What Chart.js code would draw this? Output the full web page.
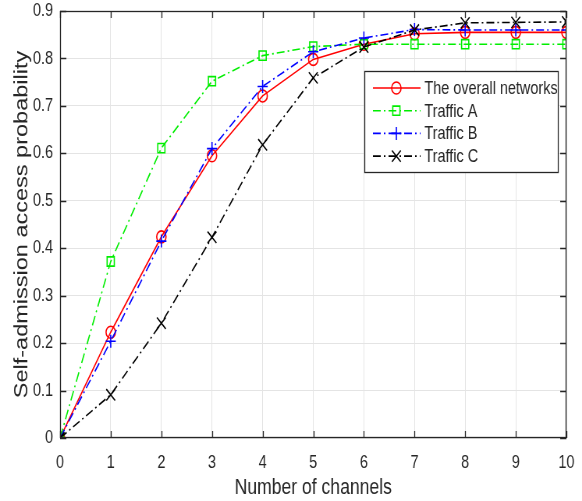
<!DOCTYPE html>
<html>
<head>
<meta charset="utf-8">
<script src="https://cdn.jsdelivr.net/npm/chart.js@4.4.1/dist/chart.umd.min.js"></script>
<style>
  html, body { margin: 0; padding: 0; background: #fff; overflow: hidden; }
  /* the reference figure is squeezed horizontally; draw wide, then squeeze */
  #wrap { width: 746px; height: 501px; transform: scaleX(0.7802); transform-origin: 0 0; }
  canvas { display: block; }
</style>
</head>
<body>
<div id="wrap"><canvas id="chart" width="746" height="501"></canvas></div>
<script>
// ── Data ───────────────────────────────────────────────────
const channels = [0, 1, 2, 3, 4, 5, 6, 7, 8, 9, 10];
const overall  = [0, 0.223, 0.424, 0.595, 0.721, 0.798, 0.830, 0.852, 0.855, 0.855, 0.855];
const trafficA = [0, 0.372, 0.611, 0.752, 0.806, 0.825, 0.830, 0.830, 0.830, 0.830, 0.830];
const trafficB = [0, 0.204, 0.415, 0.610, 0.741, 0.814, 0.843, 0.861, 0.860, 0.860, 0.860];
const trafficC = [0, 0.091, 0.242, 0.423, 0.618, 0.759, 0.824, 0.860, 0.875, 0.876, 0.877];
const xTicks = [0, 1, 2, 3, 4, 5, 6, 7, 8, 9, 10];
const yTicks = [0, 0.1, 0.2, 0.3, 0.4, 0.5, 0.6, 0.7, 0.8, 0.9];

const FONT = "'Liberation Sans', Arial, sans-serif";
const AXIS = '#262626';
const DASHDOT = [10, 4, 2, 4];

const pts = ys => channels.map((x, i) => ({ x, y: ys[i] }));

function series(label, ys, color, style, radius, dash, order) {
  return {
    label,
    data: pts(ys),
    borderColor: color,
    backgroundColor: 'rgba(0,0,0,0)',
    borderWidth: 1.6,
    borderDash: dash,
    pointStyle: style,
    pointRadius: radius,
    pointBorderColor: color,
    pointBackgroundColor: 'rgba(0,0,0,0)',
    pointBorderWidth: 1.6,
    tension: 0,
    order,
  };
}

// ── Box + inward ticks, MATLAB style ───────────────────────
const frame = {
  id: 'frame',
  afterDatasetsDraw(chart) {
    const { ctx, chartArea: a, scales: { x, y } } = chart;
    ctx.save();
    ctx.strokeStyle = AXIS;
    ctx.lineWidth = 1.3;
    ctx.strokeRect(a.left + 0.5, a.top + 0.5, a.width - 1, a.height - 1);
    ctx.beginPath();
    const tx = 7, ty = 8;
    xTicks.forEach(v => {
      const px = Math.round(x.getPixelForValue(v)) + 0.5;
      ctx.moveTo(px, a.bottom); ctx.lineTo(px, a.bottom - tx);
      ctx.moveTo(px, a.top);    ctx.lineTo(px, a.top + tx);
    });
    yTicks.forEach(v => {
      const py = Math.round(y.getPixelForValue(v)) + 0.5;
      ctx.moveTo(a.left, py);  ctx.lineTo(a.left + ty, py);
      ctx.moveTo(a.right, py); ctx.lineTo(a.right - ty, py);
    });
    ctx.stroke();
    ctx.restore();
  }
};

// ── Legend box inside the plot ─────────────────────────────
const boxLegend = {
  id: 'boxLegend',
  afterDraw(chart) {
    const { ctx } = chart;
    const bx = 467, by = 71, bw = 248, bh = 101;
    ctx.save();
    ctx.fillStyle = '#fff';
    ctx.fillRect(bx, by, bw, bh);
    ctx.strokeStyle = AXIS;
    ctx.lineWidth = 1.3;
    ctx.strokeRect(bx + 0.5, by + 0.5, bw, bh);
    ctx.font = '18.5px ' + FONT;
    ctx.textBaseline = 'middle';
    chart.data.datasets.forEach((ds, i) => {
      const yy = by + 17 + i * 22.7;
      ctx.strokeStyle = ds.borderColor;
      ctx.lineWidth = ds.borderWidth;
      ctx.setLineDash(ds.borderDash);
      ctx.beginPath();
      ctx.moveTo(bx + 11, yy); ctx.lineTo(bx + 72, yy);
      ctx.stroke();
      ctx.setLineDash([]);
      ctx.fillStyle = 'rgba(0,0,0,0)';
      Chart.helpers.drawPoint(ctx, {
        pointStyle: ds.pointStyle, radius: ds.pointRadius,
        rotation: 0, borderWidth: ds.pointBorderWidth
      }, bx + 41, yy);
      ctx.fillStyle = AXIS;
      ctx.fillText(ds.label, bx + 77, yy + 1);
    });
    ctx.restore();
  }
};

new Chart(document.getElementById('chart'), {
  type: 'line',
  data: {
    datasets: [
      series('The overall networks', overall, '#ff0000', 'circle', 6, [], 4),
      series('Traffic A', trafficA, '#00ee00', 'rect', 6.5, DASHDOT, 3),
      series('Traffic B', trafficB, '#0000ff', 'cross', 6.5, DASHDOT, 2),
      series('Traffic C', trafficC, '#000000', 'crossRot', 8, DASHDOT, 1),
    ],
  },
  options: {
    responsive: false,
    animation: false,
    layout: { padding: { top: 11, right: 20, left: 0, bottom: 0 } },
    plugins: { legend: { display: false }, tooltip: { enabled: false } },
    scales: {
      x: {
        type: 'linear',
        min: 0, max: 10,
        afterBuildTicks: s => { s.ticks = xTicks.map(v => ({ value: v })); },
        afterFit: s => { s.height = 63; s.paddingLeft = 0; s.paddingRight = 0; },
        grid: { color: '#e4e4e4', drawTicks: false },
        border: { display: false },
        ticks: { color: AXIS, padding: 14, font: { family: FONT, size: 18.5 }, maxRotation: 0 },
        title: { display: true, text: 'Number of channels', color: AXIS,
                 font: { family: FONT, size: 22.5 }, padding: { top: 0, bottom: 0 } },
      },
      y: {
        min: 0, max: 0.9,
        afterBuildTicks: s => { s.ticks = yTicks.map(v => ({ value: v })); },
        afterFit: s => { s.width = 77; s.paddingTop = 0; s.paddingBottom = 0; },
        grid: { color: '#e4e4e4', drawTicks: false },
        border: { display: false },
        ticks: { color: AXIS, padding: 9, font: { family: FONT, size: 18.5 },
                 callback: v => String(+v.toFixed(1)) },
        title: { display: true, text: 'Self-admission access probability', color: AXIS,
                 font: { family: FONT, size: 23.5 }, padding: { top: 14, bottom: 0 } },
      },
    },
  },
  plugins: [frame, boxLegend],
});
</script>
</body>
</html>
